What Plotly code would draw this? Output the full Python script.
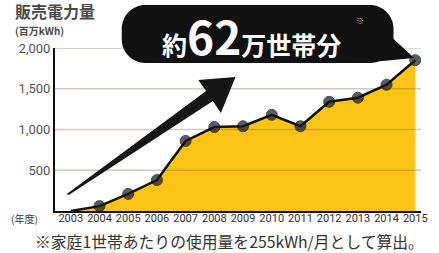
import plotly.graph_objects as go

# ---- data ----
years = [2003, 2004, 2005, 2006, 2007, 2008, 2009, 2010, 2011, 2012, 2013, 2014, 2015]
sales = [0, 60, 210, 380, 860, 1030, 1040, 1180, 1040, 1340, 1390, 1550, 1850]
ytick_vals = [500, 1000, 1500, 2000]
ytick_text = ["500", "1,000", "1,500", "2,000"]
title_text = "販売電力量"
unit_text = "(百万kWh)"
year_prefix = "(年度)"
bubble_text = "約<span style='font-size:46px'>62</span>万世帯分"
note_text = "※家庭1世帯あたりの使用量を255kWh/月として算出。"

W, H = 439, 253
L, R, T, B = 55, 428, 48, 211
PW, PH = R - L, B - T


def px(x):
    return (x - L) / PW


def py(y):
    return (B - y) / PH


def pt(x, y):
    return f"{px(x):.4f},{py(y):.4f}"


JP = "Noto Sans CJK JP"
NUM = "Liberation Sans Narrow, Roboto, Arial"

fig = go.Figure()

x_lo, x_hi = 2002.45, 2015.2

# fill area
fig.add_trace(go.Scatter(
    x=years, y=sales, mode="none", fill="tozeroy",
    fillcolor="#FDC418", hoverinfo="skip", showlegend=False))

# gridlines drawn above fill
for v in ytick_vals:
    fig.add_trace(go.Scatter(
        x=[x_lo, x_hi], y=[v, v], mode="lines",
        line=dict(color="rgba(95,80,55,0.30)", width=1.6),
        hoverinfo="skip", showlegend=False))

# line + markers
sizes = [0 if y == years[0] else 11 for y in years]
fig.add_trace(go.Scatter(
    x=years, y=sales, mode="lines+markers",
    line=dict(color="#111111", width=2.5),
    marker=dict(size=sizes, color="#14172a", line=dict(color="#000", width=1)),
    showlegend=False))

shapes = []

# tapered arrow
arrow = [(67, 194), (209, 91), (201, 80), (239, 77), (224, 113), (216, 101), (69, 195)]
path = "M " + " L ".join(pt(x, y) for x, y in arrow) + " Z"
shapes.append(dict(type="path", xref="paper", yref="paper", path=path,
                   fillcolor="#161616", line=dict(width=0), layer="above"))

# speech bubble (rounded rect + tail)
bl, br, bt, bb, r = 123, 400, 5, 63, 24
k = 0.552


def corner(p0, c, p1):
    c1 = (p0[0] + k * (c[0] - p0[0]), p0[1] + k * (c[1] - p0[1]))
    c2 = (p1[0] + k * (c[0] - p1[0]), p1[1] + k * (c[1] - p1[1]))
    return f" C {pt(*c1)} {pt(*c2)} {pt(*p1)}"


bp = f"M {pt(bl + r, bt)} L {pt(br - r, bt)}"
bp += corner((br - r, bt), (br, bt), (br, bt + r))
bp += f" L {pt(br, bb - r)}"
bp += corner((br, bb - r), (br, bb), (br - r, bb))
bp += f" L {pt(bl + r, bb)}"
bp += corner((bl + r, bb), (bl, bb), (bl, bb - r))
bp += f" L {pt(bl, bt + r)}"
bp += corner((bl, bt + r), (bl, bt), (bl + r, bt))
bp += " Z"
shapes.append(dict(type="path", xref="paper", yref="paper", path=bp,
                   fillcolor="#111111", line=dict(width=0), layer="above"))
tail = [(388, 28), (421, 58), (378, 62)]
shapes.append(dict(type="path", xref="paper", yref="paper",
                   path="M " + " L ".join(pt(x, y) for x, y in tail) + " Z",
                   fillcolor="#111111", line=dict(width=0), layer="above"))

annotations = [
    dict(text=f"<b>{title_text}</b>", x=px(12), y=py(11), xref="paper", yref="paper",
         xanchor="left", yanchor="middle", showarrow=False,
         font=dict(family=JP, size=16, color="#4a4a4a")),
    dict(text=f"<b>{unit_text}</b>", x=px(12), y=py(30.5), xref="paper", yref="paper",
         xanchor="left", yanchor="middle", showarrow=False,
         font=dict(family=JP, size=10, color="#4a4a4a")),
    dict(text=f"<b>{bubble_text}</b>", x=px(255), y=py(35), xref="paper", yref="paper",
         xanchor="center", yanchor="middle", showarrow=False,
         font=dict(family=JP, size=25, color="#ffffff")),
    dict(text="※", x=px(366), y=py(20), xref="paper", yref="paper",
         xanchor="center", yanchor="middle", showarrow=False,
         font=dict(family=JP, size=8, color="#aaaaaa")),
    dict(text=year_prefix, x=px(24), y=py(218), xref="paper", yref="paper",
         xanchor="center", yanchor="middle", showarrow=False,
         font=dict(family=JP, size=10, color="#333333")),
    dict(text=note_text, x=px(433), y=py(241), xref="paper", yref="paper",
         xanchor="right", yanchor="middle", showarrow=False,
         font=dict(family=JP, size=15.8, color="#333333")),
]

fig.update_layout(
    width=W, height=H,
    margin=dict(l=L, r=W - R, t=T, b=H - B),
    paper_bgcolor="white", plot_bgcolor="white",
    shapes=shapes, annotations=annotations,
    xaxis=dict(range=[x_lo, x_hi], tickvals=years, ticktext=[str(y) for y in years],
               showgrid=False, zeroline=False, showline=True, linecolor="#111111",
               linewidth=2, ticks="", ticklen=0, ticklabelstandoff=-4,
               tickfont=dict(family=NUM, size=11, color="#333333")),
    yaxis=dict(range=[0, 2000], tickvals=ytick_vals, ticktext=ytick_text,
               showgrid=False, zeroline=False, showline=True, linecolor="#111111",
               linewidth=2, ticks="", ticklen=0,
               tickfont=dict(family=NUM, size=13, color="#555555")),
)

fig.write_html("out.html", config={"displayModeBar": False},
               post_script="document.body.style.margin='0';document.body.style.padding='0';")
